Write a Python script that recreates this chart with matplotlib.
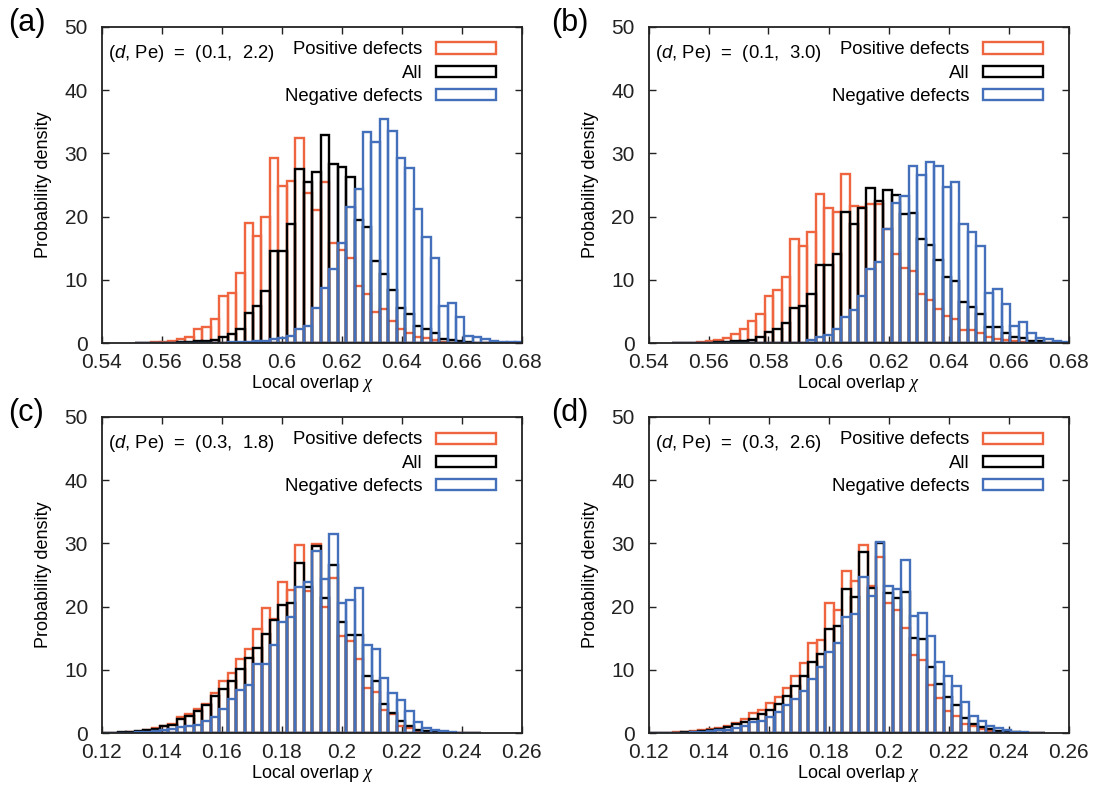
import matplotlib
matplotlib.use('Agg')
import matplotlib.pyplot as plt
from matplotlib.patches import Rectangle
import numpy as np

plt.rcParams['font.family'] = ['Liberation Sans', 'DejaVu Sans']
plt.rcParams['mathtext.fontset'] = 'custom'
plt.rcParams['mathtext.rm'] = 'Liberation Sans'
plt.rcParams['mathtext.it'] = 'Liberation Serif:italic'
plt.rcParams['mathtext.sf'] = 'Liberation Sans:italic'

BIN_W = 0.00282

# ---- panel (a) ----
a_start = 0.55095
a_pos = [0.1, 0.1, 0.15, 0.2, 0.4, 0.7, 1.05, 2.3, 2.5, 3.9, 7.4, 8.0, 11.05, 19.05, 16.9, 20.0,
         29.3, 24.8, 25.7, 32.5, 23.8, 21.05, 25.5, 15.9, 14.8, 13.4, 9.1, 7.8, 4.9, 5.4, 3.5, 2.2,
         1.7, 1.0, 0.8, 0.5, 0.25, 0.1, 0.05, 0, 0, 0, 0, 0, 0, 0]
a_all = [0.05, 0.05, 0.05, 0.05, 0.1, 0.15, 0.2, 0.3, 0.4, 0.5, 1.05, 1.4, 2.3, 4.8, 5.9, 8.3,
         14.6, 14.6, 18.9, 27.6, 25.5, 27.1, 32.9, 28.3, 27.9, 26.2, 19.5, 18.4, 13.0, 10.9, 8.4, 5.6,
         4.6, 2.8, 2.2, 1.6, 0.7, 0.6, 0.4, 0.25, 0.1, 0.1, 0.05, 0, 0, 0]
a_neg = [0, 0, 0, 0, 0, 0, 0, 0, 0.05, 0.1, 0.1, 0.15, 0.2, 0.25, 0.3, 0.4,
         0.7, 0.8, 1.15, 2.3, 2.7, 5.5, 8.8, 11.7, 15.8, 21.5, 24.4, 33.4, 31.8, 35.4, 33.6, 29.3,
         27.7, 21.2, 16.8, 13.5, 5.9, 6.4, 4.2, 1.2, 1.05, 0.7, 0.3, 0.25, 0.2, 0.15]

# ---- panel (b) ----
b_start = 0.54778
b_pos = [0.1, 0.1, 0.1, 0.15, 0.4, 0.5, 0.85, 1.4, 2.3, 3.6, 4.7, 7.5, 8.4, 10.5, 16.4, 15.3,
         17.5, 23.6, 21.4, 20.8, 26.7, 21.7, 21.5, 22.0, 22.0, 18.0, 14.1, 11.9, 11.4, 7.8, 6.8, 5.4,
         4.3, 3.8, 2.1, 2.1, 1.6, 0.95, 0.7, 0.5, 0.3, 0.2, 0.1, 0.05, 0, 0, 0]
b_all = [0.05, 0.05, 0.05, 0.05, 0.1, 0.15, 0.2, 0.3, 0.4, 0.6, 0.95, 1.8, 2.3, 3.2, 5.5, 5.9,
         7.8, 12.4, 12.4, 14.1, 20.7, 18.9, 21.3, 24.6, 22.5, 24.2, 23.4, 20.4, 20.6, 16.5, 15.6, 13.2,
         10.5, 9.8, 6.5, 5.8, 4.7, 2.5, 2.5, 1.7, 0.95, 0.85, 0.4, 0.3, 0.1, 0.1, 0.05]
b_neg = [0, 0, 0, 0, 0, 0, 0, 0, 0.05, 0.05, 0.05, 0.05, 0.05, 0.1, 0.1, 0.1,
         0.5, 1.05, 1.3, 2.2, 4.1, 5.3, 7.5, 11.8, 12.9, 18.1, 22.1, 23.3, 28.0, 26.6, 28.7, 28.0,
         24.7, 25.5, 18.8, 17.5, 15.4, 8.0, 8.6, 6.2, 2.7, 3.3, 1.7, 0.8, 0.7, 0.4, 0.25]

# ---- panel (c) ----
c_start = 0.1197
c_pos = [0.05, 0.1, 0.1, 0.2, 0.25, 0.5, 0.8, 1.1, 1.5, 2.5, 3.0, 3.8, 4.6, 6.3, 8.3, 9.6,
         11.7, 13.3, 16.4, 19.8, 18.1, 23.9, 22.6, 29.7, 22.5, 29.9, 19.9, 24.5, 15.4, 14.5, 11.7, 7.2,
         6.5, 3.7, 3.1, 1.1, 0.85, 0.3, 0.15, 0.1, 0.05, 0, 0, 0, 0]
c_all = [0.05, 0.1, 0.15, 0.25, 0.35, 0.5, 0.7, 1.1, 1.3, 2.3, 2.8, 3.5, 4.4, 5.9, 7.0, 8.2,
         10.1, 11.9, 13.4, 15.7, 17.9, 20.3, 20.5, 26.9, 23.1, 29.6, 21.3, 26.6, 17.5, 15.6, 15.5, 9.0,
         8.2, 4.7, 3.2, 1.9, 1.2, 0.6, 0.3, 0.15, 0.1, 0.05, 0, 0, 0]
c_neg = [0.05, 0.05, 0.05, 0.1, 0.15, 0.25, 0.35, 0.5, 0.7, 1.05, 1.15, 1.25, 2.0, 2.5, 3.8, 5.4,
         6.8, 7.7, 10.9, 10.9, 13.9, 17.5, 18.3, 23.1, 23.9, 28.8, 24.4, 31.4, 20.6, 21.1, 22.9, 14.0,
         13.3, 8.7, 6.4, 5.2, 3.5, 1.8, 0.9, 0.6, 0.4, 0.2, 0.1, 0.1, 0.05]

# ---- panel (d) ----
d_start = 0.1197
d_pos = [0.05, 0.05, 0.1, 0.15, 0.2, 0.35, 0.45, 0.7, 0.85, 1.1, 1.6, 2.2, 3.2, 3.7, 4.8, 5.8,
         7.1, 9.1, 11.1, 14.3, 14.8, 20.6, 19.5, 25.6, 24.1, 29.7, 23.2, 27.9, 20.5, 19.5, 16.7, 12.3,
         11.6, 7.6, 5.6, 3.6, 2.8, 1.5, 1.1, 0.7, 0.3, 0.25, 0.15, 0.1, 0, 0, 0]
d_all = [0, 0.05, 0.05, 0.1, 0.15, 0.25, 0.35, 0.55, 0.7, 1.0, 1.4, 1.8, 2.3, 3.0, 3.7, 4.7,
         5.9, 7.4, 9.1, 11.3, 12.5, 16.5, 17.0, 22.8, 21.6, 28.6, 22.9, 30.0, 22.2, 21.4, 22.3, 15.1,
         14.9, 10.4, 7.8, 5.7, 4.4, 2.4, 1.5, 1.0, 0.7, 0.4, 0.25, 0.15, 0.1, 0.05, 0]
d_neg = [0, 0, 0.05, 0.05, 0.1, 0.15, 0.25, 0.35, 0.45, 0.6, 0.8, 1.15, 1.8, 1.9, 2.6, 3.4,
         4.5, 5.4, 6.7, 8.6, 10.4, 12.9, 14.2, 18.3, 18.8, 24.7, 21.7, 30.2, 23.3, 22.8, 27.4, 18.5,
         19.0, 15.3, 11.2, 9.1, 7.4, 4.9, 2.8, 1.9, 1.1, 0.8, 0.5, 0.25, 0.15, 0.1, 0.05]

panel_letters = ['(a)', '(b)', '(c)', '(d)']
params = ['(0.1, 2.2)', '(0.1, 3.0)', '(0.3, 1.8)', '(0.3, 2.6)']
xlims = [(0.54, 0.68), (0.54, 0.68), (0.12, 0.26), (0.12, 0.26)]
xticks_list = [[0.54, 0.56, 0.58, 0.60, 0.62, 0.64, 0.66, 0.68],
               [0.54, 0.56, 0.58, 0.60, 0.62, 0.64, 0.66, 0.68],
               [0.12, 0.14, 0.16, 0.18, 0.20, 0.22, 0.24, 0.26],
               [0.12, 0.14, 0.16, 0.18, 0.20, 0.22, 0.24, 0.26]]
xticklabels_list = [['0.54', '0.56', '0.58', '0.6', '0.62', '0.64', '0.66', '0.68'],
                    ['0.54', '0.56', '0.58', '0.6', '0.62', '0.64', '0.66', '0.68'],
                    ['0.12', '0.14', '0.16', '0.18', '0.2', '0.22', '0.24', '0.26'],
                    ['0.12', '0.14', '0.16', '0.18', '0.2', '0.22', '0.24', '0.26']]
yticks = [0, 10, 20, 30, 40, 50]
series_names = ['Positive defects', 'All', 'Negative defects']
colors = ['#ee6540', '#000000', '#4470bb']
starts = [a_start, b_start, c_start, d_start]
data = [(a_pos, a_all, a_neg), (b_pos, b_all, b_neg), (c_pos, c_all, c_neg), (d_pos, d_all, d_neg)]

W, H = 1099, 789
fig = plt.figure(figsize=(W / 100, H / 100), dpi=100)

# axes frames in pixels: (left, top, right, bottom)
frames = [(101.7, 26.7, 521.7, 343.3), (648.5, 26.7, 1068.5, 343.3),
          (101.7, 416.7, 521.7, 733.3), (648.5, 416.7, 1068.5, 733.3)]
letter_pos = [(8, 31), (551, 31), (8, 421), (551, 421)]

TICK_FS = 15
LAB_FS = 13
LEG_FS = 13.3

for i in range(4):
    l, t, r, b = frames[i]
    ax = fig.add_axes([l / W, 1 - b / H, (r - l) / W, (b - t) / H])
    aw, ah = r - l, b - t
    n = len(data[i][0])
    edges = starts[i] + BIN_W * np.arange(n)
    for vals, col in zip(data[i], colors):
        ax.bar(edges, vals, width=BIN_W, align='edge', fill=False,
               edgecolor=col, linewidth=1.7, zorder=2)
    ax.set_xlim(*xlims[i])
    ax.set_ylim(0, 50)
    ax.set_xticks(xticks_list[i])
    ax.set_xticklabels(xticklabels_list[i])
    ax.set_yticks(yticks)
    ax.tick_params(direction='in', length=5, width=1.0, top=True, right=True,
                   labelsize=TICK_FS, pad=7, colors='#222222')
    ax.tick_params(axis='y', pad=10)
    for s in ax.spines.values():
        s.set_linewidth(1.3)
        s.set_color('#222222')
    ax.set_xlabel(r'Local overlap $\chi$', fontsize=LAB_FS, labelpad=1)
    ax.set_ylabel('Probability density', fontsize=LAB_FS, labelpad=9)

    # parameter annotation
    ax.text(6.5 / aw, 1 - 31.5 / ah, r'($\mathsf{d}$, Pe)  =  ' + params[i].replace(', ', ',  '),
            transform=ax.transAxes, fontsize=LEG_FS, ha='left', va='baseline')

    # legend: text on the left, outlined box on the right
    for j, (name, col) in enumerate(zip(series_names, colors)):
        yc = 21.3 + 23.4 * j
        ax.text(320.8 / aw, 1 - (yc + 6.5) / ah, name, transform=ax.transAxes,
                fontsize=LEG_FS, ha='right', va='baseline')
        ax.add_patch(Rectangle((334.7 / aw, 1 - (yc + 5.5) / ah), 60 / aw, 11 / ah,
                               transform=ax.transAxes, fill=False, edgecolor=col,
                               linewidth=1.7, zorder=5))

    lx, ly = letter_pos[i]
    fig.text(lx / W, 1 - ly / H, panel_letters[i], fontsize=22, ha='left', va='baseline')

fig.savefig('out.png', dpi=100)
